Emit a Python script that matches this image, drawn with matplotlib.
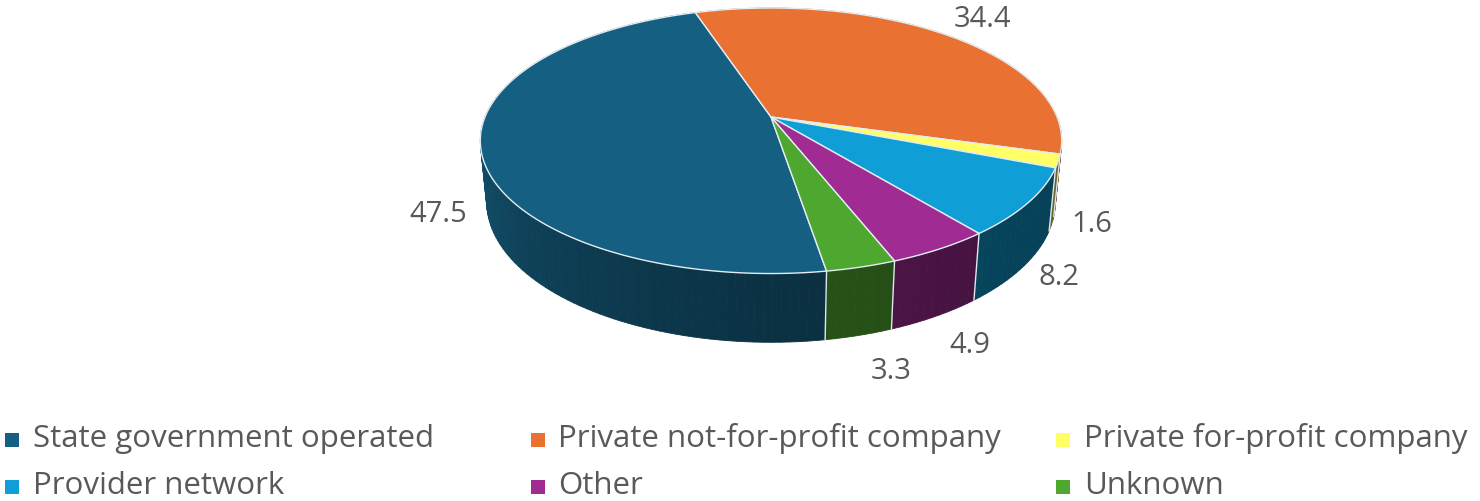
import matplotlib.pyplot as plt
import numpy as np
from matplotlib.patches import Polygon, Rectangle

labels = ['State government operated', 'Private not-for-profit company',
          'Private for-profit company', 'Provider network', 'Other', 'Unknown']
values = [47.5, 34.4, 1.6, 8.2, 4.9, 3.3]
colors = ['#156082', '#E97132', '#FFFF66', '#0F9ED5', '#A02B93', '#4EA72E']

plt.rcParams['font.family'] = ['Open Sans', 'DejaVu Sans']
text_color = '#595959'

# 3d pie geometry (pixel space)
cx, cy, k = 771, 118, 286
elev = np.radians(26.7)
ce, se = np.cos(elev), np.sin(elev)
dist = 4.99
thick = 0.24
start = 279.2  # first slice start, degrees, going clockwise


def proj(theta, r, z):
    th = np.radians(theta)
    x = r * np.cos(th)
    y = r * np.sin(th)
    Y = z * ce + y * se
    D = y * ce - z * se
    s = dist / (dist + D)
    return cx + k * x * s, cy - k * Y * s, D


def shade(col, f):
    rgb = np.array(plt.matplotlib.colors.to_rgb(col))
    return tuple(rgb * f)


fig = plt.figure(figsize=(14.8, 5.02), dpi=100)
ax = fig.add_axes([0, 0, 1, 1])
ax.set_xlim(0, 1480)
ax.set_ylim(502, 0)
ax.axis('off')

fracs = np.array(values) / sum(values)
bounds = start - 360 * np.concatenate([[0], np.cumsum(fracs)])

# side walls, drawn far to near
segs = []
for i in range(len(values)):
    a0, a1 = bounds[i], bounds[i + 1]
    n = max(2, int(abs(a0 - a1) / 1.5) + 1)
    angs = np.linspace(a0, a1, n)
    for j in range(n - 1):
        t0, t1 = angs[j], angs[j + 1]
        xa, ya, da = proj(t0, 1, 0)
        xb, yb, db = proj(t1, 1, 0)
        xc, yc, _ = proj(t1, 1, -thick)
        xd, yd, _ = proj(t0, 1, -thick)
        tm = ((t0 + t1) / 2 + 180) % 360 - 180  # -180..180
        if tm <= 0:
            f = 0.40 + 0.47 * (abs(tm) / 180) ** 2
        else:
            f = 0.87 - 0.47 * (tm / 180) ** 2
        segs.append(((da + db) / 2, [(xa, ya), (xb, yb), (xc, yc), (xd, yd)], shade(colors[i], f)))
segs.sort(key=lambda s: -s[0])
for _, pts, c in segs:
    ax.add_patch(Polygon(pts, closed=True, facecolor=c, edgecolor=c, lw=0.6))

# vertical edges at slice boundaries on the front
for b in bounds[:-1]:
    tm = (b + 180) % 360 - 180
    if -175 < tm < -5:
        x0, y0, _ = proj(b, 1, 0)
        x1, y1, _ = proj(b, 1, -thick)
        ax.plot([x0, x1], [y0, y1], color='#dfe8ee', lw=1.0)

# top faces
ox, oy, _ = proj(0, 0, 0)
for i in range(len(values)):
    angs = np.linspace(bounds[i], bounds[i + 1], 200)
    pts = [(ox, oy)] + [proj(a, 1, 0)[:2] for a in angs]
    ax.add_patch(Polygon(pts, closed=True, facecolor=colors[i],
                         edgecolor='#e4ecf2', lw=1.0))

# data labels
label_nudge = [(-49, 3), (36, -17), (40, 0), (37, 9), (34, 28), (32, 35)]
for i, v in enumerate(values):
    mid = (bounds[i] + bounds[i + 1]) / 2
    tm = (mid + 180) % 360 - 180
    z = 0 if tm > 0 else -thick
    lx, ly, _ = proj(mid, 1, z)
    dx, dy = label_nudge[i]
    ax.text(lx + dx, ly + dy, f'{v:.1f}', ha='center', va='center',
            fontsize=21, color=text_color)

# legend
for i, lab in enumerate(labels):
    col, row = i % 3, i // 3
    x0 = 5 + col * 525.5
    y0 = 439 + row * 47
    ax.add_patch(Rectangle((x0, y0 - 5), 14, 14, facecolor=colors[i], edgecolor='none'))
    ax.text(x0 + 28, y0, lab, ha='left', va='center', fontsize=22.5, color=text_color)

fig.savefig('out.png', dpi=100)
